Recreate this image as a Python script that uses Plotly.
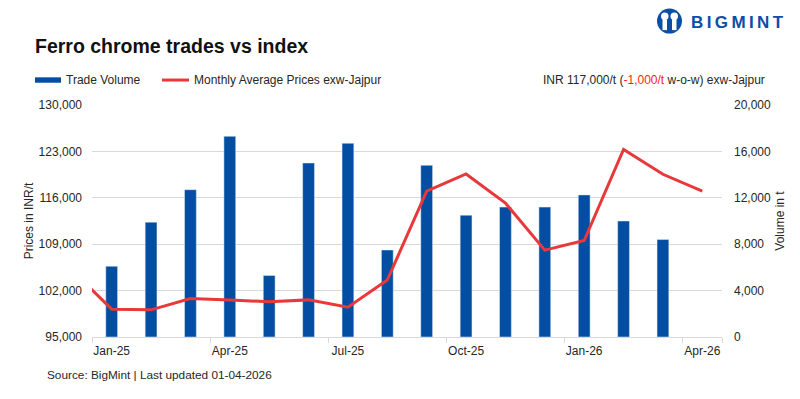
import plotly.graph_objects as go

months = ["Dec-24", "Jan-25", "Feb-25", "Mar-25", "Apr-25", "May-25", "Jun-25", "Jul-25",
          "Aug-25", "Sep-25", "Oct-25", "Nov-25", "Dec-25", "Jan-26", "Feb-26", "Mar-26", "Apr-26"]
trade_volume = [None, 6100, 9900, 12700, 17300, 5300, 15000, 16700,
                7500, 14800, 10500, 11200, 11200, 12250, 10000, 8400, None]
avg_price = [105000, 99200, 99100, 100800, 100600, 100300, 100600, 99500,
             103600, 117000, 119600, 115200, 108100, 109550, 123300, 119550, 117000]
tick_labels = ["Jan-25", "Apr-25", "Jul-25", "Oct-25", "Jan-26", "Apr-26"]

BLUE = "#034ea2"
RED = "#e8383a"
GRID = "#d9d9d9"
TXT = "#262626"
FONT = "Liberation Sans, Arial, sans-serif"

# the page body has an 8px margin, so the figure is laid out in page pixels minus 8
OFF = 8
W, H = 800 - OFF, 399 - OFF
L, R, T, B = 92 - OFF, 722 - OFF, 105 - OFF, 337.3 - OFF


def px(x):
    return (x - OFF - L) / (R - L)


def py(y):
    return (B - (y - OFF)) / (B - T)


fig = go.Figure()
fig.add_trace(go.Bar(x=months, y=trade_volume, name="Trade Volume", marker_color=BLUE,
                     width=0.3, yaxis="y", showlegend=False))
fig.add_trace(go.Scatter(x=months, y=avg_price, name="Monthly Average Prices exw-Jajpur",
                         mode="lines", line=dict(color=RED, width=3), yaxis="y2",
                         showlegend=False))

shapes = [
    # legend swatches
    dict(type="rect", xref="paper", yref="paper", x0=px(35), x1=px(61), y0=py(82.7), y1=py(77.3),
         fillcolor=BLUE, line=dict(width=0)),
    dict(type="line", xref="paper", yref="paper", x0=px(162), x1=px(189), y0=py(80), y1=py(80),
         line=dict(color=RED, width=3)),
    # logo icon
    dict(type="circle", xref="paper", yref="paper", x0=px(657), x1=px(682), y0=py(33.5), y1=py(8.5),
         fillcolor="#0a4fa6", line=dict(width=0)),
    dict(type="circle", xref="paper", yref="paper", x0=px(661), x1=px(668.5), y0=py(20), y1=py(12.5),
         fillcolor="white", line=dict(width=0)),
    dict(type="circle", xref="paper", yref="paper", x0=px(670.5), x1=px(678), y0=py(20), y1=py(12.5),
         fillcolor="white", line=dict(width=0)),
    dict(type="rect", xref="paper", yref="paper", x0=px(662.5), x1=px(667), y0=py(30), y1=py(19),
         fillcolor="white", line=dict(width=0)),
    dict(type="rect", xref="paper", yref="paper", x0=px(672), x1=px(676.5), y0=py(30), y1=py(19),
         fillcolor="white", line=dict(width=0)),
]

annotations = [
    dict(text="Trade Volume", xref="paper", yref="paper", x=px(64), y=py(80),
         xanchor="left", yanchor="middle", showarrow=False, font=dict(size=12, color=TXT, family=FONT)),
    dict(text="Monthly Average Prices exw-Jajpur", xref="paper", yref="paper", x=px(192), y=py(80),
         xanchor="left", yanchor="middle", showarrow=False, font=dict(size=12, color=TXT, family=FONT)),
    dict(text="INR 117,000/t (<span style='color:#ff1a1a'>-1,000/t</span> w-o-w) exw-Jajpur",
         xref="paper", yref="paper", x=px(767), y=py(80),
         xanchor="right", yanchor="middle", showarrow=False, font=dict(size=12, color=TXT, family=FONT)),
    dict(text="Source: BigMint | Last updated 01-04-2026", xref="paper", yref="paper", x=px(45), y=py(375),
         xanchor="left", yanchor="middle", showarrow=False, font=dict(size=11.8, color=TXT, family=FONT)),
    dict(text="<b>B\u2009I\u2009G\u2009M\u2009I\u2009N\u2009T</b>",
         xref="paper", yref="paper", x=px(689), y=py(22),
         xanchor="left", yanchor="middle", showarrow=False, font=dict(size=17, color="#0a4fa6", family=FONT)),
]

fig.update_layout(
    width=W, height=H,
    margin=dict(l=L, r=W - R, t=T, b=H - B, pad=0, autoexpand=False),
    paper_bgcolor="white", plot_bgcolor="white",
    font=dict(family=FONT, size=12, color=TXT),
    title=dict(text="<b>Ferro chrome trades vs index</b>", xref="container", yref="container",
               x=(35 - OFF) / W, y=1 - (46 - OFF) / H, xanchor="left", yanchor="middle",
               font=dict(size=19.5, color="#111111", family=FONT)),
    bargap=0.7,
    xaxis=dict(type="category", categoryorder="array", categoryarray=months,
               range=[0.5, 16.5], tickmode="array", tickvals=tick_labels, ticktext=tick_labels,
               tickson="boundaries", ticks="outside", ticklen=5, tickcolor=GRID, tickangle=0,
               showline=True, linecolor=GRID, linewidth=1, showgrid=False, automargin=False,
               ticklabelstandoff=3, tickfont=dict(size=12, color=TXT)),
    yaxis=dict(title=dict(text="Volume in t", standoff=5, font=dict(size=12, color=TXT)),
               side="right", range=[0, 20000], tickmode="linear", tick0=0, dtick=4000,
               tickformat=",", showgrid=True, gridcolor=GRID, zeroline=False, automargin=False,
               ticklabelstandoff=11, tickfont=dict(size=12, color=TXT)),
    yaxis2=dict(title=dict(text="Prices in INR/t", standoff=2, font=dict(size=12, color=TXT)),
                side="left", overlaying="y", range=[95000, 130000], tickmode="linear",
                tick0=95000, dtick=7000, tickformat=",", showgrid=False, zeroline=False,
                automargin=False, ticklabelstandoff=9, tickfont=dict(size=12, color=TXT)),
    shapes=shapes,
    annotations=annotations,
)

fig.write_html("out.html")
